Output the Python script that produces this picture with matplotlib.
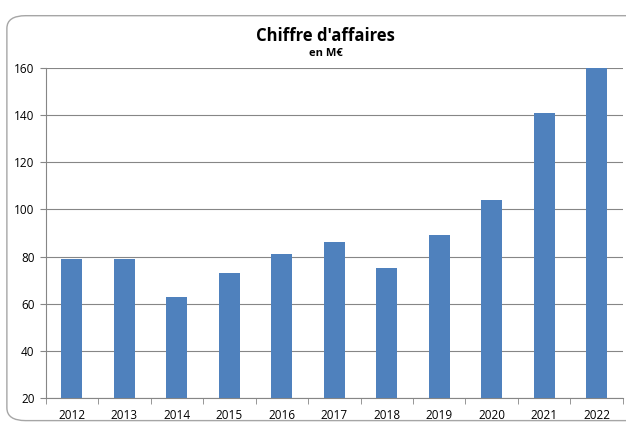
import matplotlib.pyplot as plt
import numpy as np
from matplotlib.patches import FancyBboxPatch

years = ['2012', '2013', '2014', '2015', '2016', '2017', '2018', '2019', '2020', '2021', '2022']
ca = [79, 79, 63, 73, 81, 86, 75, 89, 104, 141, 160]

plt.rcParams['font.family'] = ['Open Sans', 'DejaVu Sans']

fig = plt.figure(figsize=(6.26, 4.24), dpi=100)

# rounded frame around the chart (cut on the right like the screenshot)
frame = FancyBboxPatch((0.011, 0.008), 1.3, 0.955,
                       boxstyle='round,pad=0,rounding_size=0.03',
                       transform=fig.transFigure, facecolor='white',
                       edgecolor='#a6a6a6', linewidth=1.0, zorder=-1)
fig.patches.append(frame)

ax = fig.add_axes([0.073, 0.061, 0.922, 0.779])
ax.set_zorder(1)
x = np.arange(len(years))
ax.bar(x, ca, width=0.4, color='#4f81bd', zorder=3)

ax.set_ylim(20, 160)
ax.set_yticks(range(20, 161, 20))
ax.set_xlim(-0.5, len(years) - 0.5)
ax.set_xticks(x)
ax.set_xticklabels(years)
ax.set_xticks(np.arange(-0.5, len(years), 1), minor=True)
ax.tick_params(axis='x', which='major', length=0, pad=8, labelsize=8.5)
ax.tick_params(axis='x', which='minor', length=4, color='#868686')
ax.tick_params(axis='y', length=4, color='#868686', labelsize=8.5, pad=4)

ax.grid(axis='y', color='#868686', linewidth=0.8, zorder=0)
ax.set_axisbelow(True)
for s in ['top', 'right']:
    ax.spines[s].set_visible(False)
for s in ['left', 'bottom']:
    ax.spines[s].set_color('#868686')
ax.patch.set_alpha(0)

fig.text(0.52, 0.915, "Chiffre d'affaires", ha='center', va='center',
         fontsize=12, fontweight='bold')
fig.text(0.52, 0.873, "en M€", ha='center', va='center',
         fontsize=8, fontweight='bold')

fig.savefig('out.png', dpi=100)
